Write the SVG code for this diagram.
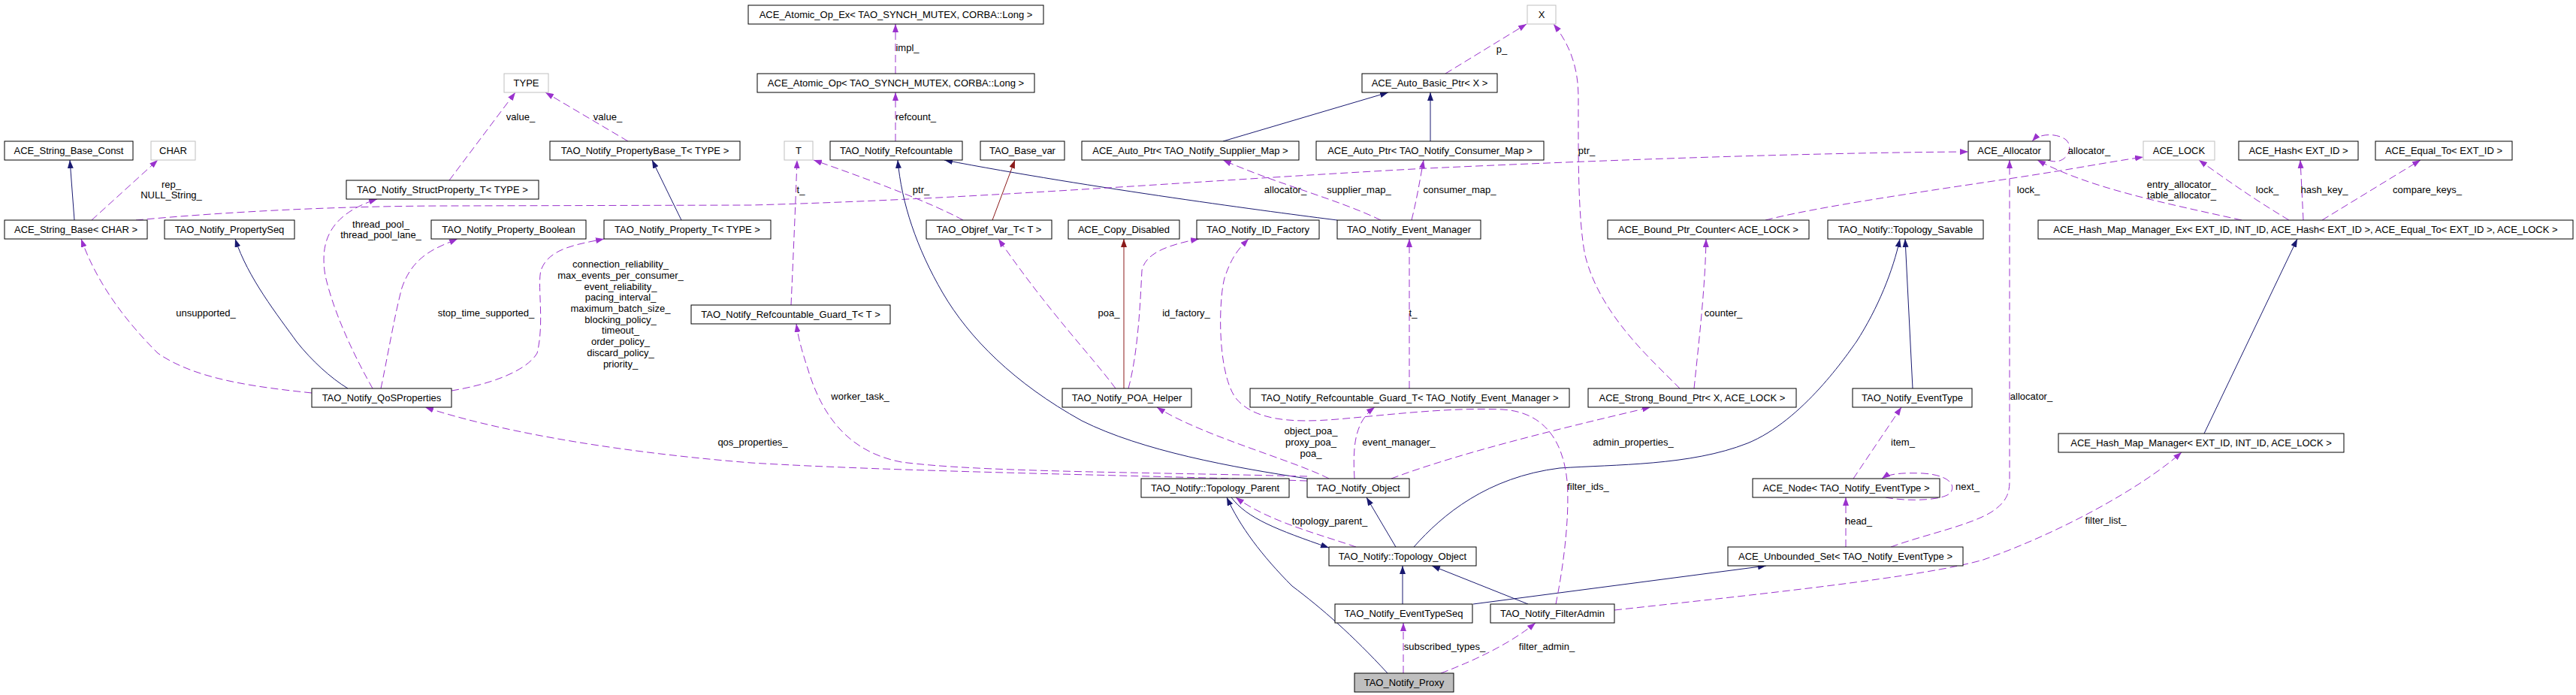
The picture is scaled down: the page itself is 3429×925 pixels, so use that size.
<svg xmlns="http://www.w3.org/2000/svg" width="3429" height="925" viewBox="0 0 3429 925">
<style>
.nd rect{fill:#fff;stroke:#000;stroke-width:1}
.nd.gr rect{stroke:#bfbfbf}
.nd.hl rect{fill:#bfbfbf}
text{font-family:"Liberation Sans",Arial,sans-serif;font-size:13px;fill:#000;text-anchor:middle}
.e path{fill:none;stroke-width:1}
.inh{stroke:#191970;marker-end:url(#mb)}
.prot{stroke:#8b1a1a;marker-end:url(#mr)}
.use{stroke:#9a32cd;stroke-dasharray:10,5;marker-end:url(#mp)}
</style>
<defs>
<marker id="mb" viewBox="0 0 11 8" refX="11" refY="4" markerWidth="11" markerHeight="8" markerUnits="userSpaceOnUse" orient="auto"><path d="M0,0L11,4L0,8z" fill="#191970"/></marker>
<marker id="mr" viewBox="0 0 11 8" refX="11" refY="4" markerWidth="11" markerHeight="8" markerUnits="userSpaceOnUse" orient="auto"><path d="M0,0L11,4L0,8z" fill="#8b1a1a"/></marker>
<marker id="mp" viewBox="0 0 11 8" refX="11" refY="4" markerWidth="11" markerHeight="8" markerUnits="userSpaceOnUse" orient="auto"><path d="M0,0L11,4L0,8z" fill="#9a32cd"/></marker>
</defs>
<rect width="3429" height="925" fill="#fff"/>
<g id="connectors" class="e">
<path class="use" d="M1192,98 L1192,32"/>
<path class="use" d="M1192,188 L1192,123"/>
<path class="use" d="M598,240 L686,123"/>
<path class="use" d="M836,188 L726,123"/>
<path class="inh" d="M99,293 L93,213"/>
<path class="use" d="M122,293 L210,213"/>
<path class="inh" d="M907,293 L868,213"/>
<path class="use" d="M1053,406 C1056,340 1059,270 1061,213"/>
<path class="use" d="M1282,293 C1240,270 1160,240 1083,213"/>
<path class="prot" d="M1321,293 L1351,213"/>
<path class="inh" d="M1780,293 C1700,283 1450,250 1257,213"/>
<path class="inh" d="M1628,188 L1848,123"/>
<path class="inh" d="M1904,188 L1904,123"/>
<path class="use" d="M1924,98 L2032,32"/>
<path class="use" d="M1838,293 C1780,265 1700,245 1628,213"/>
<path class="use" d="M1879,293 C1886,265 1890,240 1895,213"/>
<path class="use" d="M181,293 C300,282 450,274 600,274 L1000,273 C1300,265 1600,240 1900,224 C2200,210 2450,203 2620,202"/>
<path class="use" d="M2726,213 C2750,222 2762,196 2750,186 C2740,178 2716,176 2705,188"/>
<path class="use" d="M2984,293 C2880,270 2780,250 2712,213"/>
<path class="use" d="M3047,293 C3000,265 2965,240 2927,213"/>
<path class="use" d="M3066,293 L3062,213"/>
<path class="use" d="M3091,293 L3222,213"/>
<path class="inh" d="M2934,577 L3058,318"/>
<path class="use" d="M2350,293 C2420,275 2560,255 2680,237 C2760,225 2810,215 2853,209"/>
<path class="use" d="M2517,728 C2560,712 2620,700 2650,682 C2672,668 2675,655 2675,640 L2675,213"/>
<path class="use" d="M2236,517 C2200,480 2130,420 2110,340 C2100,290 2101,200 2101,130 C2101,90 2090,60 2068,32"/>
<path class="use" d="M2255,517 C2262,450 2270,380 2271,318"/>
<path class="use" d="M1876,517 L1876,318"/>
<path class="inh" d="M2546,517 L2536,318"/>
<path class="inh" d="M1882,728 C1920,685 1980,635 2076,623 C2150,618 2250,620 2326,590 C2400,560 2460,470 2471,455 C2500,410 2520,360 2529,318"/>
<path class="use" d="M2467,637 L2531,542"/>
<path class="use" d="M2510,662 C2540,668 2590,666 2597,655 C2604,643 2590,632 2560,630 C2535,629 2515,630 2505,637"/>
<path class="use" d="M2457,728 L2457,662"/>
<path class="inh" d="M1961,804 L2351,753"/>
<path class="use" d="M2149,812 C2350,790 2560,768 2640,745 C2740,710 2850,650 2904,602"/>
<path class="inh" d="M2034,804 L1906,753"/>
<path class="inh" d="M1867,804 L1867,753"/>
<path class="inh" d="M1847,896 C1800,845 1760,810 1720,780 C1680,740 1650,700 1633,662"/>
<path class="use" d="M1868,896 L1868,829"/>
<path class="use" d="M1918,896 Q2000,865 2044,829"/>
<path class="inh" d="M1639,662 C1660,690 1700,705 1769,729"/>
<path class="use" d="M1805,728 C1760,712 1690,695 1645,662"/>
<path class="inh" d="M1858,728 L1819,662"/>
<path class="inh" d="M1740,637 C1640,622 1520,600 1440,560 C1350,510 1290,450 1255,390 C1220,330 1200,270 1195,213"/>
<path class="use" d="M1740,640 C1500,632 1200,628 1000,616 C800,600 650,570 566,542"/>
<path class="use" d="M1740,634 C1500,628 1300,628 1200,615 C1120,600 1090,540 1075,490 C1065,460 1062,445 1060,431"/>
<path class="use" d="M1769,637 C1720,612 1600,580 1540,542"/>
<path class="use" d="M1803,637 C1800,590 1805,560 1830,542"/>
<path class="use" d="M1852,637 C1950,600 2100,565 2197,542"/>
<path class="use" d="M2071,804 C2080,760 2090,690 2086,640 C2080,580 2050,548 2000,545 C1930,542 1850,552 1780,558 C1720,563 1670,560 1645,530 C1620,495 1622,400 1630,370 C1640,340 1650,330 1662,318"/>
<path class="use" d="M1502,517 C1515,470 1518,400 1520,360 C1525,335 1560,325 1596,318"/>
<path class="prot" d="M1496,517 L1496,318"/>
<path class="use" d="M1485,517 C1450,470 1400,420 1329,318"/>
<path class="use" d="M415,523 C340,515 260,505 210,470 C170,430 130,380 108,318"/>
<path class="inh" d="M463,517 C440,503 415,480 395,455 C370,420 330,370 313,318"/>
<path class="use" d="M496,517 C475,480 445,420 433,367 C425,320 440,285 502,265"/>
<path class="use" d="M507,517 C515,480 525,420 535,383 C550,340 580,330 609,318"/>
<path class="use" d="M601,520 C650,512 700,495 715,470 C725,430 715,380 720,360 C730,330 770,325 804,318"/>
</g>
<g id="labels">
<text x="1208" y="68">impl_</text>
<text x="1219" y="160">refcount_</text>
<text x="693" y="160">value_</text>
<text x="809" y="160">value_</text>
<text x="228" y="250">rep_</text>
<text x="228" y="264">NULL_String_</text>
<text x="1066" y="257">t_</text>
<text x="1226" y="257">ptr_</text>
<text x="1999" y="70">p_</text>
<text x="1809" y="257">supplier_map_</text>
<text x="1943" y="257">consumer_map_</text>
<text x="1711" y="257">allocator_</text>
<text x="2781" y="205">allocator_</text>
<text x="2904" y="250">entry_allocator_</text>
<text x="2904" y="264">table_allocator_</text>
<text x="3018" y="257">lock_</text>
<text x="3094" y="257">hash_key_</text>
<text x="3231" y="257">compare_keys_</text>
<text x="2700" y="257">lock_</text>
<text x="2704" y="532">allocator_</text>
<text x="2112" y="205">ptr_</text>
<text x="2294" y="421">counter_</text>
<text x="1881" y="421">t_</text>
<text x="2533" y="593">item_</text>
<text x="2619" y="652">next_</text>
<text x="2474" y="698">head_</text>
<text x="2803" y="697">filter_list_</text>
<text x="1923" y="865">subscribed_types_</text>
<text x="2059" y="865">filter_admin_</text>
<text x="1770" y="698">topology_parent_</text>
<text x="1002" y="593">qos_properties_</text>
<text x="1145" y="532">worker_task_</text>
<text x="1745" y="578">object_poa_</text>
<text x="1745" y="593">proxy_poa_</text>
<text x="1745" y="608">poa_</text>
<text x="1862" y="593">event_manager_</text>
<text x="2174" y="593">admin_properties_</text>
<text x="2114" y="652">filter_ids_</text>
<text x="1579" y="421">id_factory_</text>
<text x="1476" y="421">poa_</text>
<text x="274" y="421">unsupported_</text>
<text x="507" y="303">thread_pool_</text>
<text x="507" y="317">thread_pool_lane_</text>
<text x="647" y="421">stop_time_supported_</text>
<text x="826" y="356">connection_reliability_</text>
<text x="826" y="371">max_events_per_consumer_</text>
<text x="826" y="386">event_reliability_</text>
<text x="826" y="400">pacing_interval_</text>
<text x="826" y="415">maximum_batch_size_</text>
<text x="826" y="430">blocking_policy_</text>
<text x="826" y="444">timeout_</text>
<text x="826" y="459">order_policy_</text>
<text x="826" y="474">discard_policy_</text>
<text x="826" y="489">priority_</text>
</g>
<g id="n_atomic_op_ex" class="nd"><rect x="996" y="7" width="393" height="25"/><text x="1192.5" y="24">ACE_Atomic_Op_Ex&lt; TAO_SYNCH_MUTEX, CORBA::Long &gt;</text></g>
<g id="n_X" class="nd gr"><rect x="2033" y="7" width="38" height="25"/><text x="2052" y="24">X</text></g>
<g id="n_TYPE" class="nd gr"><rect x="671" y="98" width="59" height="25"/><text x="700.5" y="115">TYPE</text></g>
<g id="n_atomic_op" class="nd"><rect x="1008" y="98" width="369" height="25"/><text x="1192.5" y="115">ACE_Atomic_Op&lt; TAO_SYNCH_MUTEX, CORBA::Long &gt;</text></g>
<g id="n_auto_basic_ptr" class="nd"><rect x="1813" y="98" width="180" height="25"/><text x="1903" y="115">ACE_Auto_Basic_Ptr&lt; X &gt;</text></g>
<g id="n_string_base_const" class="nd"><rect x="6" y="188" width="171" height="25"/><text x="91.5" y="205">ACE_String_Base_Const</text></g>
<g id="n_CHAR" class="nd gr"><rect x="201" y="188" width="59" height="25"/><text x="230.5" y="205">CHAR</text></g>
<g id="n_propertybase_t" class="nd"><rect x="732" y="188" width="253" height="25"/><text x="858.5" y="205">TAO_Notify_PropertyBase_T&lt; TYPE &gt;</text></g>
<g id="n_T" class="nd gr"><rect x="1044" y="188" width="38" height="25"/><text x="1063" y="205">T</text></g>
<g id="n_refcountable" class="nd"><rect x="1105" y="188" width="176" height="25"/><text x="1193" y="205">TAO_Notify_Refcountable</text></g>
<g id="n_base_var" class="nd"><rect x="1305" y="188" width="112" height="25"/><text x="1361" y="205">TAO_Base_var</text></g>
<g id="n_auto_ptr_supplier" class="nd"><rect x="1440" y="188" width="289" height="25"/><text x="1584.5" y="205">ACE_Auto_Ptr&lt; TAO_Notify_Supplier_Map &gt;</text></g>
<g id="n_auto_ptr_consumer" class="nd"><rect x="1752" y="188" width="303" height="25"/><text x="1903.5" y="205">ACE_Auto_Ptr&lt; TAO_Notify_Consumer_Map &gt;</text></g>
<g id="n_allocator" class="nd"><rect x="2620" y="188" width="109" height="25"/><text x="2674.5" y="205">ACE_Allocator</text></g>
<g id="n_ace_lock" class="nd gr"><rect x="2853" y="188" width="95" height="25"/><text x="2900.5" y="205">ACE_LOCK</text></g>
<g id="n_ace_hash" class="nd"><rect x="2980" y="188" width="159" height="25"/><text x="3059.5" y="205">ACE_Hash&lt; EXT_ID &gt;</text></g>
<g id="n_ace_equal_to" class="nd"><rect x="3162" y="188" width="182" height="25"/><text x="3253" y="205">ACE_Equal_To&lt; EXT_ID &gt;</text></g>
<g id="n_struct_property_t" class="nd"><rect x="461" y="240" width="256" height="25"/><text x="589" y="257">TAO_Notify_StructProperty_T&lt; TYPE &gt;</text></g>
<g id="n_string_base" class="nd"><rect x="6" y="293" width="190" height="25"/><text x="101" y="310">ACE_String_Base&lt; CHAR &gt;</text></g>
<g id="n_propertyseq" class="nd"><rect x="219" y="293" width="173" height="25"/><text x="305.5" y="310">TAO_Notify_PropertySeq</text></g>
<g id="n_property_boolean" class="nd"><rect x="574" y="293" width="206" height="25"/><text x="677" y="310">TAO_Notify_Property_Boolean</text></g>
<g id="n_property_t" class="nd"><rect x="804" y="293" width="222" height="25"/><text x="915" y="310">TAO_Notify_Property_T&lt; TYPE &gt;</text></g>
<g id="n_objref_var_t" class="nd"><rect x="1233" y="293" width="167" height="25"/><text x="1316.5" y="310">TAO_Objref_Var_T&lt; T &gt;</text></g>
<g id="n_copy_disabled" class="nd"><rect x="1422" y="293" width="148" height="25"/><text x="1496" y="310">ACE_Copy_Disabled</text></g>
<g id="n_id_factory" class="nd"><rect x="1593" y="293" width="163" height="25"/><text x="1674.5" y="310">TAO_Notify_ID_Factory</text></g>
<g id="n_event_manager" class="nd"><rect x="1780" y="293" width="191" height="25"/><text x="1875.5" y="310">TAO_Notify_Event_Manager</text></g>
<g id="n_bound_ptr_counter" class="nd"><rect x="2140" y="293" width="268" height="25"/><text x="2274" y="310">ACE_Bound_Ptr_Counter&lt; ACE_LOCK &gt;</text></g>
<g id="n_topology_savable" class="nd"><rect x="2433" y="293" width="207" height="25"/><text x="2536.5" y="310">TAO_Notify::Topology_Savable</text></g>
<g id="n_hash_map_manager_ex" class="nd"><rect x="2713" y="293" width="712" height="25"/><text x="3069" y="310">ACE_Hash_Map_Manager_Ex&lt; EXT_ID, INT_ID, ACE_Hash&lt; EXT_ID &gt;, ACE_Equal_To&lt; EXT_ID &gt;, ACE_LOCK &gt;</text></g>
<g id="n_refcountable_guard_t" class="nd"><rect x="920" y="406" width="265" height="25"/><text x="1052.5" y="423">TAO_Notify_Refcountable_Guard_T&lt; T &gt;</text></g>
<g id="n_qosproperties" class="nd"><rect x="415" y="517" width="186" height="25"/><text x="508" y="534">TAO_Notify_QoSProperties</text></g>
<g id="n_poa_helper" class="nd"><rect x="1414" y="517" width="172" height="25"/><text x="1500" y="534">TAO_Notify_POA_Helper</text></g>
<g id="n_refcountable_guard_em" class="nd"><rect x="1664" y="517" width="425" height="25"/><text x="1876.5" y="534">TAO_Notify_Refcountable_Guard_T&lt; TAO_Notify_Event_Manager &gt;</text></g>
<g id="n_strong_bound_ptr" class="nd"><rect x="2114" y="517" width="277" height="25"/><text x="2252.5" y="534">ACE_Strong_Bound_Ptr&lt; X, ACE_LOCK &gt;</text></g>
<g id="n_eventtype" class="nd"><rect x="2466" y="517" width="159" height="25"/><text x="2545.5" y="534">TAO_Notify_EventType</text></g>
<g id="n_hash_map_manager" class="nd"><rect x="2740" y="577" width="380" height="25"/><text x="2930" y="594">ACE_Hash_Map_Manager&lt; EXT_ID, INT_ID, ACE_LOCK &gt;</text></g>
<g id="n_topology_parent" class="nd"><rect x="1519" y="637" width="197" height="25"/><text x="1617.5" y="654">TAO_Notify::Topology_Parent</text></g>
<g id="n_notify_object" class="nd"><rect x="1740" y="637" width="136" height="25"/><text x="1808" y="654">TAO_Notify_Object</text></g>
<g id="n_ace_node" class="nd"><rect x="2333" y="637" width="249" height="25"/><text x="2457.5" y="654">ACE_Node&lt; TAO_Notify_EventType &gt;</text></g>
<g id="n_topology_object" class="nd"><rect x="1769" y="728" width="196" height="25"/><text x="1867" y="745">TAO_Notify::Topology_Object</text></g>
<g id="n_unbounded_set" class="nd"><rect x="2300" y="728" width="313" height="25"/><text x="2456.5" y="745">ACE_Unbounded_Set&lt; TAO_Notify_EventType &gt;</text></g>
<g id="n_eventtypeseq" class="nd"><rect x="1777" y="804" width="183" height="25"/><text x="1868.5" y="821">TAO_Notify_EventTypeSeq</text></g>
<g id="n_filteradmin" class="nd"><rect x="1984" y="804" width="165" height="25"/><text x="2066.5" y="821">TAO_Notify_FilterAdmin</text></g>
<g id="n_proxy" class="nd hl"><rect x="1803" y="896" width="132" height="25"/><text x="1869" y="913">TAO_Notify_Proxy</text></g>
</svg>
